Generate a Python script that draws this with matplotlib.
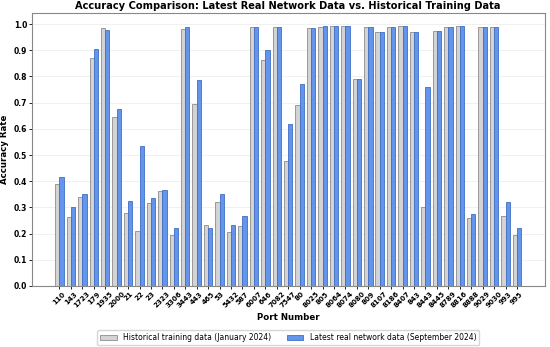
import matplotlib
matplotlib.use("Agg")
import matplotlib.pyplot as plt
import numpy as np

ports = ["110", "143", "1723", "179", "1935", "2000", "21", "22", "23", "2323",
         "3306", "3443", "443", "465", "53", "5432", "587", "6007", "646", "7082",
         "7547", "80", "8025", "805", "8064", "8074", "8080", "809", "8107", "8186",
         "8407", "843", "8443", "8445", "8789", "8816", "8888", "9029", "9030", "993",
         "995"]
historical = [0.391, 0.262, 0.339, 0.870, 0.985, 0.645, 0.280, 0.211, 0.317, 0.361,
              0.194, 0.983, 0.693, 0.234, 0.320, 0.205, 0.228, 0.989, 0.862, 0.989,
              0.478, 0.692, 0.985, 0.989, 0.992, 0.992, 0.791, 0.990, 0.969, 0.990,
              0.992, 0.968, 0.303, 0.972, 0.989, 0.991, 0.260, 0.989, 0.989, 0.266,
              0.196]
latest = [0.417, 0.303, 0.352, 0.904, 0.977, 0.675, 0.326, 0.534, 0.336, 0.366,
          0.223, 0.987, 0.785, 0.223, 0.350, 0.231, 0.266, 0.989, 0.901, 0.989,
          0.618, 0.773, 0.985, 0.992, 0.992, 0.992, 0.791, 0.990, 0.969, 0.990,
          0.992, 0.968, 0.759, 0.972, 0.989, 0.991, 0.273, 0.989, 0.989, 0.320,
          0.220]

x = np.arange(len(ports))
w = 0.37

fig, ax = plt.subplots(figsize=(5.5, 3.47), dpi=100)
ax.bar(x - w / 2, historical, w, color="#d3d3d3", edgecolor="#8c8c8c", linewidth=0.6,
       label="Historical training data (January 2024)")
ax.bar(x + w / 2, latest, w, color="#6495ed", edgecolor="#3f6fc4", linewidth=0.6,
       label="Latest real network data (September 2024)")

yt = np.arange(0, 1.01, 0.1)
ax.set_yticks(yt)
ax.set_yticklabels([f"{v:.1f}" for v in yt], fontsize=5.5, fontweight="bold")
ax.set_xticks(x)
ax.set_xticklabels(ports, rotation=45, ha="center", fontsize=5.1, fontweight="bold")
ax.tick_params(axis="both", length=2, width=0.6, pad=1.5)
ax.grid(axis="y", color="#eeeeee", linewidth=0.6)
ax.set_axisbelow(True)
for s in ax.spines.values():
    s.set_color("#888888")
    s.set_linewidth(0.8)

ax.set_xlabel("Port Number", fontsize=6.2, fontweight="bold")
ax.xaxis.set_label_coords(0.5, -0.10)
ax.set_ylabel("Accuracy Rate", fontsize=6.2, fontweight="bold", labelpad=3)
ax.set_title("Accuracy Comparison: Latest Real Network Data vs. Historical Training Data",
             fontsize=7.1, fontweight="bold", pad=3)

ax.legend(loc="upper center", bbox_to_anchor=(0.5, -0.148), ncol=2, fontsize=5.5,
          frameon=True, edgecolor="#cccccc", handlelength=2.2, columnspacing=2.0,
          borderpad=0.4)

fig.subplots_adjust(left=0.058, right=0.99, top=0.962, bottom=0.176)
fig.savefig("out.png", dpi=100)
